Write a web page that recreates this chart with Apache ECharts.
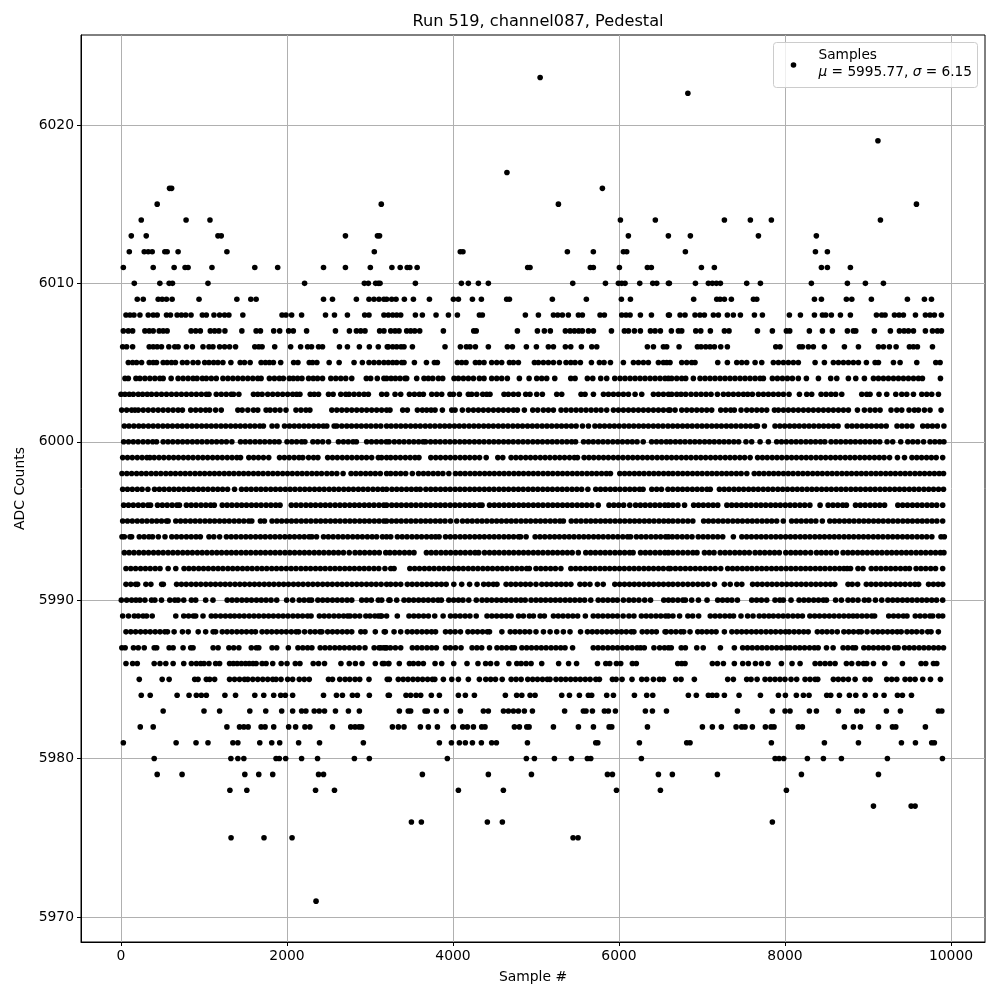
<!DOCTYPE html>
<html><head><meta charset="utf-8">
<style>html,body{margin:0;padding:0;background:#fff}#c{width:1000px;height:1000px}</style>
<script src="https://cdn.jsdelivr.net/npm/echarts@6/dist/echarts.min.js"></script>
</head><body><div id="c"></div>
<script>
const xTicks=[0,2000,4000,6000,8000,10000];
const yTicks=[5970,5980,5990,6000,6010,6020];
const s6023=[5050];
const s6022=[6830];
const s6019=[9120];
const s6017=[4650];
const s6016=[585,610,5800];
const s6015=[436,3136,5270,9584];
const s6014=[244,784,1072,6017,6438,7270,7583,7836,9150];
const s6013=[124,304,1168,1208,2704,3090,3115,6113,6595,6860,7680,8378];
const s6012=[100,280,328,376,528,556,688,1276,3052,4088,4120,5378,5691,6053,6093,6800,8367,8511];
const s6011=[28,388,640,772,808,1096,1612,1888,2440,2704,3004,3264,3364,3448,3480,3568,4900,4928,5655,5691,6005,6342,6390,6993,7149,8439,8511,8788];
const s6010=[160,468,580,620,1048,2212,2932,2980,3068,3100,3121,3547,4101,4185,4306,4426,5443,5837,5993,6033,6073,6250,6407,6455,6596,6607,6921,7077,7125,7174,7222,7539,7704,8318,8752,8969,9186];
const s6009=[196,268,448,496,548,616,940,1396,1564,1628,2440,2548,2836,2988,3048,3108,3168,3201,3262,3314,3414,3523,3716,4005,4065,4234,4342,4647,4680,5197,5607,6029,6138,6900,7178,7218,7270,7354,7620,7660,8355,8439,8740,8805,9041,9475,9680,9765];
const s6008=[60,108,156,228,328,388,436,548,596,676,728,780,844,980,1028,1120,1188,1248,1300,1468,1940,1988,2056,2176,2464,2572,2728,2936,2988,3168,3221,3274,3322,3370,3547,3631,3796,3945,4053,4318,4354,4872,5029,5210,5262,5318,5390,5511,5559,5772,5824,6033,6085,6134,6258,6391,6596,6607,6736,6796,6916,6976,7029,7137,7198,7306,7378,7463,7632,7728,8053,8186,8355,8451,8491,8559,8668,8788,9102,9166,9206,9319,9375,9427,9572,9692,9748,9800,9885];
const s6007=[28,88,140,288,340,388,460,508,556,844,900,956,1076,1128,1180,1252,1456,1628,1680,1840,1912,2020,2076,2236,2584,2752,2836,2888,2940,3116,3168,3250,3302,3350,3442,3490,3539,3599,3884,4250,4280,4776,5017,5101,5173,5354,5411,5463,5515,5559,5632,5692,5909,6065,6114,6186,6258,6379,6435,6499,6631,6716,6756,6925,6985,7101,7270,7326,7668,7848,8017,8057,8294,8451,8571,8752,8824,8853,9077,9270,9379,9435,9487,9548,9692,9777,9837,9885];
const s6006=[20,68,140,340,388,436,488,576,648,688,788,860,988,1060,1108,1188,1248,1308,1380,1612,1660,1700,1852,2044,2164,2248,2296,2380,2428,2632,2728,2872,2992,3100,3208,3221,3274,3322,3374,3410,3511,3904,4089,4161,4205,4270,4426,4655,4716,4884,5005,5149,5210,5354,5419,5547,5672,5732,6342,6415,6535,6575,6724,6945,6989,7045,7097,7150,7226,7306,7889,7941,8174,8210,8282,8342,8475,8716,8885,9126,9186,9258,9339,9499,9547,9596,9777];
const s6005=[88,140,188,248,340,388,428,508,556,608,656,740,796,868,928,1008,1060,1116,1168,1228,1324,1436,1488,1556,1688,1740,1788,1836,1924,2080,2132,2268,2308,2360,2508,2628,2808,2908,2988,3048,3108,3168,3221,3274,3322,3382,3410,3535,3680,3776,3812,4053,4105,4157,4270,4318,4374,4466,4527,4587,4680,4728,4788,4981,5029,5089,5149,5210,5282,5362,5419,5471,5535,5668,5764,5820,5897,6053,6174,6234,6294,6354,6475,6535,6575,6615,6756,6816,6876,6916,7190,7306,7419,7479,7539,7640,7720,7860,7921,7981,8041,8101,8161,8363,8475,8583,8644,8704,8764,8824,8885,8981,9086,9126,9307,9387,9588,9817,9869];
const s6004=[48,88,180,228,288,348,408,468,508,604,688,748,808,868,916,980,1028,1088,1148,1228,1288,1348,1408,1468,1528,1588,1648,1688,1788,1848,1908,1956,2028,2076,2128,2180,2260,2316,2368,2428,2528,2588,2648,2708,2780,2956,3008,3088,3168,3201,3254,3306,3362,3422,3442,3563,3651,3703,3756,3824,3876,4013,4065,4125,4185,4246,4318,4374,4466,4527,4587,4655,4800,4917,5009,5069,5129,5226,5419,5471,5619,5684,5780,5852,5949,6013,6073,6134,6194,6254,6314,6375,6435,6495,6555,6596,6635,6696,6756,6804,6896,6977,7037,7097,7157,7218,7278,7338,7398,7459,7519,7579,7640,7700,7740,7848,7909,7969,8029,8089,8161,8258,8403,8551,8624,8764,8853,8957,9066,9126,9186,9246,9307,9367,9427,9487,9548,9608,9656,9873];
const s6003=[0,48,100,148,208,260,316,368,428,488,548,608,668,728,788,848,908,968,1028,1060,1148,1208,1268,1328,1356,1420,1596,1648,1700,1768,1828,1888,1948,2008,2068,2116,2156,2280,2328,2380,2500,2556,2648,2708,2748,2808,2868,2928,2980,3141,3201,3302,3370,3475,3535,3595,3643,3744,3804,3864,3964,4005,4077,4185,4225,4286,4358,4406,4446,4615,4667,4728,4788,4876,4928,5009,5077,5250,5310,5543,5591,5692,5813,5873,5933,5993,6053,6114,6194,6274,6415,6475,6535,6596,6635,6696,6748,6804,6868,6929,6989,7049,7109,7186,7258,7318,7378,7439,7499,7551,7607,7680,7740,7800,7860,7921,7981,8049,8174,8262,8322,8435,8495,8555,8611,8684,8925,8985,9025,9133,9226,9335,9407,9467,9548,9648,9708,9768,9849];
const s6002=[8,68,128,168,208,268,328,388,448,508,568,628,688,740,840,900,960,1020,1068,1140,1208,1408,1460,1528,1596,1648,1748,1796,1856,1916,1988,2108,2168,2228,2276,2540,2600,2660,2720,2780,2840,2900,2960,3020,3080,3140,3200,3241,3394,3450,3571,3631,3683,3736,3784,3872,3985,4025,4113,4185,4246,4306,4366,4426,4487,4547,4607,4667,4728,4776,4860,4961,5021,5089,5149,5210,5302,5362,5423,5483,5543,5603,5664,5724,5784,5852,5933,5993,6053,6114,6174,6234,6294,6354,6415,6475,6535,6596,6615,6676,6756,6816,6876,6937,6997,7057,7117,7226,7286,7346,7390,7471,7539,7599,7660,7720,7780,7873,7921,7981,8041,8101,8161,8222,8282,8342,8403,8463,8523,8583,8644,8704,8764,8873,8957,9025,9086,9146,9278,9347,9407,9495,9559,9608,9680,9748,9881];
const s6001=[40,96,155,214,270,330,388,446,505,562,620,680,738,796,855,912,972,1030,1088,1146,1205,1262,1322,1380,1438,1496,1555,1612,1672,1716,1820,1880,1970,2030,2088,2146,2205,2262,2322,2380,2438,2480,2568,2600,2660,2720,2778,2838,2896,2955,3012,3072,3130,3200,3255,3314,3372,3430,3490,3548,3606,3666,3724,3782,3842,3900,3958,4018,4076,4134,4194,4252,4310,4370,4428,4486,4546,4604,4662,4722,4780,4838,4898,4956,5014,5074,5132,5190,5250,5308,5366,5426,5484,5560,5632,5710,5768,5826,5886,5944,6002,6062,6120,6178,6238,6296,6354,6414,6472,6530,6590,6648,6706,6766,6824,6882,6942,7000,7058,7118,7176,7234,7294,7352,7410,7470,7528,7586,7646,7668,7752,7880,7938,7996,8056,8114,8172,8232,8290,8348,8408,8466,8524,8584,8640,8750,8808,8866,8926,8984,9042,9102,9160,9220,9350,9410,9470,9530,9660,9718,9776,9836,9915];
const s6000=[32,90,148,206,266,324,382,428,508,566,624,684,742,800,860,918,976,1036,1094,1152,1212,1270,1336,1440,1498,1556,1616,1674,1732,1792,1850,1904,2000,2058,2116,2176,2216,2312,2370,2430,2500,2620,2680,2738,2796,2836,2960,3018,3078,3136,3196,3230,3293,3352,3410,3470,3528,3586,3640,3670,3730,3788,3846,3906,3964,4022,4082,4140,4198,4258,4316,4374,4434,4492,4550,4610,4668,4726,4786,4844,4902,4962,5020,5078,5138,5196,5254,5314,5372,5430,5477,5573,5632,5690,5750,5808,5866,5926,5984,6042,6102,6160,6218,6292,6393,6452,6510,6570,6620,6680,6738,6796,6856,6914,6972,7032,7090,7148,7208,7266,7324,7384,7442,7530,7599,7700,7800,7900,7958,8016,8076,8134,8192,8252,8310,8368,8428,8480,8555,8614,8672,8732,8790,8848,8908,8966,9024,9084,9142,9230,9298,9395,9480,9540,9600,9670,9748,9806,9864,9915];
const s5999=[20,78,136,196,254,312,348,400,458,516,576,634,692,752,810,868,928,986,1044,1104,1162,1220,1280,1338,1396,1440,1540,1598,1656,1716,1780,1910,1968,2026,2086,2144,2190,2260,2320,2372,2490,2548,2606,2666,2724,2782,2842,2900,2958,3020,3100,3140,3200,3250,3308,3366,3426,3484,3542,3590,3733,3792,3850,3910,3968,4026,4086,4144,4202,4262,4320,4400,4540,4600,4700,4758,4816,4876,4934,4992,5052,5110,5168,5228,5286,5344,5404,5462,5500,5580,5638,5696,5756,5814,5872,5932,5990,6048,6108,6166,6224,6284,6342,6400,6460,6518,6576,6634,6692,6752,6810,6868,6928,6986,7044,7104,7162,7220,7280,7338,7396,7456,7514,7580,7670,7728,7786,7846,7904,7962,8022,8080,8138,8198,8256,8314,8374,8432,8490,8550,8608,8666,8726,8784,8842,8902,8960,9018,9078,9136,9194,9260,9355,9440,9530,9588,9646,9706,9764,9822,9900];
const s5998=[12,70,128,188,246,304,364,422,480,540,598,656,716,774,832,892,950,1008,1068,1126,1184,1244,1302,1360,1420,1478,1536,1596,1654,1712,1772,1830,1888,1948,2006,2064,2124,2182,2240,2300,2358,2416,2480,2540,2600,2676,2772,2830,2888,2948,3006,3064,3124,3200,3250,3310,3370,3430,3510,3585,3644,3702,3762,3820,3878,3950,4030,4088,4146,4206,4264,4322,4382,4440,4498,4558,4616,4674,4734,4792,4850,4910,4968,5026,5086,5144,5202,5262,5320,5378,5438,5496,5554,5614,5672,5730,5790,5848,5897,6010,6068,6126,6186,6244,6302,6362,6420,6478,6538,6596,6650,6710,6768,6826,6886,6944,7002,7062,7120,7178,7238,7296,7354,7414,7472,7540,7630,7688,7746,7806,7864,7922,7982,8040,8098,8158,8216,8274,8334,8392,8450,8510,8568,8626,8686,8744,8802,8862,8920,8978,9038,9096,9154,9214,9272,9330,9390,9448,9506,9566,9624,9682,9742,9800,9858,9910];
const s5997=[20,78,136,196,254,324,404,462,520,580,638,696,756,814,872,932,990,1048,1108,1166,1224,1284,1368,1452,1510,1568,1628,1686,1744,1804,1862,1920,1980,2038,2096,2156,2214,2272,2332,2390,2448,2508,2566,2624,2684,2742,2800,2860,2918,2976,3036,3094,3152,3200,3264,3322,3380,3440,3498,3556,3605,3673,3732,3790,3850,3908,3966,4026,4084,4142,4202,4260,4318,4378,4436,4494,4554,4612,4670,4730,4788,4846,4906,4964,5022,5082,5140,5198,5258,5316,5374,5434,5492,5550,5625,5720,5778,5836,5896,5954,6012,6072,6130,6188,6248,6290,6395,6454,6512,6590,6648,6708,6766,6824,6884,6942,7000,7060,7100,7210,7268,7326,7386,7444,7502,7562,7620,7678,7738,7796,7854,7914,7972,8030,8090,8148,8206,8266,8324,8382,8442,8500,8558,8618,8676,8734,8794,8852,8910,8970,9028,9086,9146,9204,9262,9322,9380,9438,9498,9556,9614,9674,9732,9790,9850,9910];
const s5996=[32,90,148,208,266,324,356,440,498,556,616,674,704,788,846,904,964,1022,1080,1124,1220,1278,1336,1396,1454,1512,1572,1630,1688,1748,1806,1864,1916,2052,2110,2168,2228,2286,2344,2404,2462,2520,2580,2638,2696,2756,2814,2872,2932,2990,3048,3108,3166,3200,3262,3320,3378,3438,3496,3554,3614,3672,3730,3790,3848,3906,3966,4024,4082,4142,4200,4258,4318,4350,4440,4498,4556,4616,4674,4732,4792,4850,4908,4968,5026,5084,5144,5202,5260,5320,5378,5436,5496,5554,5612,5672,5750,5880,5938,5996,6056,6130,6200,6258,6316,6376,6434,6492,6552,6596,6650,6710,6790,6900,6958,7016,7076,7134,7190,7300,7358,7416,7476,7534,7592,7652,7710,7768,7828,7886,7944,8004,8062,8120,8180,8238,8300,8423,8520,8578,8636,8696,8740,8850,8908,8966,9026,9084,9142,9200,9360,9418,9476,9536,9594,9652,9712,9770,9828,9900];
const s5995=[20,78,136,196,254,312,372,430,488,548,568,660,718,776,836,894,952,1012,1070,1128,1188,1246,1304,1364,1422,1480,1540,1576,1680,1728,1820,1878,1936,1996,2054,2112,2172,2230,2288,2348,2406,2464,2524,2582,2640,2700,2758,2816,2876,2934,2992,3052,3110,3168,3200,3260,3318,3376,3436,3494,3552,3612,3670,3728,3788,3846,3904,3970,4045,4115,4174,4232,4292,4350,4408,4468,4526,4584,4644,4702,4760,4820,4878,4936,4996,5054,5112,5172,5230,5288,5330,5425,5484,5542,5602,5660,5718,5778,5836,5894,5954,6012,6070,6130,6188,6246,6306,6364,6422,6482,6540,6596,6650,6710,6770,6830,6890,7020,7078,7136,7196,7254,7312,7372,7430,7488,7548,7606,7664,7724,7782,7840,7900,7980,8080,8138,8196,8256,8314,8372,8450,8540,8598,8656,8716,8774,8832,8892,8950,9008,9068,9126,9184,9244,9302,9360,9420,9478,9536,9596,9654,9712,9772,9830,9900];
const s5994=[12,40,108,128,220,278,336,380,450,530,612,670,728,788,846,904,956,1060,1118,1188,1270,1328,1386,1446,1504,1562,1622,1680,1738,1798,1856,1914,1974,2032,2090,2150,2208,2266,2300,2356,2440,2498,2556,2616,2674,2732,2792,2850,2908,2968,3026,3080,3150,3200,3250,3330,3388,3446,3506,3564,3622,3682,3740,3790,3833,3910,3968,4026,4086,4144,4202,4262,4320,4378,4438,4496,4554,4614,4672,4730,4790,4815,4881,4990,5048,5106,5166,5224,5282,5342,5400,5458,5518,5576,5634,5694,5752,5810,5870,5928,5986,6046,6104,6140,6210,6268,6326,6386,6444,6502,6562,6596,6644,6702,6762,6820,6880,6955,7014,7072,7132,7190,7250,7378,7480,7538,7596,7656,7714,7772,7832,7890,7948,8008,8066,8124,8184,8242,8300,8360,8418,8476,8536,8594,8652,8712,8770,8828,8888,8946,9004,9064,9122,9180,9240,9298,9356,9416,9474,9532,9592,9650,9708,9770,9880,9920];
const s5993=[40,98,156,216,274,332,392,450,508,568,626,684,744,802,860,920,978,1036,1096,1154,1212,1272,1330,1388,1448,1506,1564,1624,1682,1740,1800,1858,1916,1976,2034,2092,2152,2210,2268,2328,2386,2444,2504,2562,2620,2680,2750,2820,2878,2936,2996,3054,3112,3190,3240,3298,3356,3416,3474,3530,3680,3738,3796,3856,3914,3972,4032,4090,4148,4208,4266,4310,4380,4440,4498,4556,4616,4674,4732,4792,4850,4908,4968,5026,5084,5144,5202,5260,5320,5378,5436,5510,5600,5658,5716,5776,5834,5892,5952,6010,6068,6128,6170,6260,6318,6376,6436,6494,6552,6596,6650,6710,6770,6830,6890,6940,7030,7088,7145,7220,7278,7336,7396,7454,7512,7570,7640,7698,7756,7816,7874,7932,8010,8070,8128,8186,8246,8310,8380,8438,8496,8556,8620,8700,8758,8816,8876,8934,8992,9052,9110,9168,9228,9286,9344,9404,9462,9520,9580,9638,9696,9756,9814,9872,9915];
const s5992=[60,118,176,236,294,352,412,470,568,660,760,818,876,936,994,1052,1112,1170,1228,1288,1346,1404,1464,1522,1580,1640,1698,1756,1816,1874,1932,1992,2050,2108,2168,2226,2284,2344,2402,2460,2520,2578,2636,2696,2754,2812,2872,2930,2988,3048,3106,3180,3250,3290,3480,3538,3596,3656,3714,3772,3832,3890,3948,4008,4066,4124,4184,4242,4300,4360,4418,4476,4536,4594,4652,4712,4770,4828,4888,4920,5000,5058,5116,5176,5234,5300,5420,5478,5536,5596,5654,5712,5772,5830,5888,5948,6006,6064,6124,6182,6240,6300,6358,6416,6476,6534,6596,6620,6680,6740,6800,6860,6920,6980,7040,7100,7160,7226,7310,7368,7426,7486,7544,7602,7662,7720,7778,7838,7896,7954,8014,8072,8130,8190,8248,8306,8366,8424,8482,8542,8600,8658,8710,8750,8790,8880,8940,9040,9098,9156,9216,9274,9332,9392,9450,9500,9580,9638,9696,9756,9814,9900];
const s5991=[60,118,176,200,300,360,490,510,670,728,786,846,904,962,1022,1080,1138,1198,1256,1314,1374,1432,1490,1550,1608,1666,1726,1784,1842,1902,1960,2018,2078,2136,2194,2254,2312,2370,2430,2488,2546,2606,2664,2722,2782,2840,2898,2958,3016,3074,3134,3200,3250,3310,3370,3450,3508,3566,3626,3684,3742,3802,3860,3918,4010,4105,4200,4290,4370,4428,4486,4530,4640,4698,4756,4816,4874,4932,5000,5070,5128,5186,5246,5304,5362,5420,5530,5588,5650,5740,5810,5950,6008,6066,6126,6184,6242,6302,6360,6418,6478,6536,6596,6650,6710,6770,6830,6890,6950,7010,7070,7150,7270,7340,7420,7480,7610,7668,7726,7786,7844,7902,7962,8020,8078,8138,8196,8254,8314,8372,8430,8490,8548,8600,8760,8810,8875,8980,9038,9096,9156,9214,9272,9332,9390,9448,9508,9566,9610,9730,9788,9846,9900];
const s5990=[4,68,128,180,228,288,368,408,488,588,648,688,756,848,900,1020,1108,1280,1338,1396,1456,1514,1572,1632,1690,1748,1808,1876,1996,2068,2148,2206,2264,2296,2372,2430,2488,2548,2606,2664,2724,2780,2900,2958,3016,3100,3141,3228,3241,3322,3410,3468,3526,3586,3644,3702,3762,3820,3860,3950,4008,4066,4120,4190,4281,4350,4408,4466,4526,4584,4642,4702,4760,4818,4870,4941,5000,5058,5116,5176,5234,5292,5352,5410,5468,5528,5586,5660,5750,5808,5866,5926,5980,6053,6120,6178,6240,6310,6380,6540,6596,6650,6710,6770,6800,6876,6957,7061,7190,7248,7306,7360,7427,7600,7658,7716,7780,7880,7938,7980,8073,8170,8228,8286,8346,8404,8462,8500,8610,8680,8760,8818,8880,8957,9010,9090,9166,9240,9298,9356,9416,9474,9532,9592,9650,9708,9768,9826,9900];
const s5989=[20,90,160,208,266,308,376,660,756,814,872,900,988,1088,1140,1200,1258,1316,1368,1426,1484,1544,1602,1660,1720,1778,1836,1896,1954,2012,2072,2130,2188,2248,2290,2390,2448,2506,2566,2624,2682,2730,2760,2818,2876,2950,3000,3058,3100,3130,3200,3140,3329,3470,3528,3586,3646,3704,3780,3881,3970,4028,4086,4146,4204,4280,4410,4468,4526,4586,4644,4700,4790,4848,4920,4969,5050,5101,5210,5268,5326,5386,5444,5502,5595,5690,5748,5806,5866,5924,5982,6050,6120,6180,6270,6328,6386,6446,6504,6562,6596,6650,6730,6830,6888,6960,7100,7158,7216,7276,7334,7380,7470,7550,7615,7690,7748,7806,7860,7920,7978,8036,8096,8154,8210,8300,8358,8416,8476,8534,8592,8652,8710,8768,8820,8870,8928,8986,9046,9080,9250,9308,9366,9426,9470,9570,9628,9686,9746,9780,9850,9900];
const s5988=[60,118,176,236,294,352,412,470,528,560,640,740,810,930,1020,1110,1140,1220,1278,1336,1396,1454,1512,1572,1620,1700,1758,1816,1876,1934,1992,2052,2110,2140,2212,2280,2338,2396,2420,2490,2548,2606,2666,2724,2780,2890,2940,3064,3172,3185,3290,3370,3450,3508,3566,3626,3684,3742,3790,3910,3968,4026,4090,4180,4238,4296,4356,4414,4440,4589,4690,4748,4806,4866,4924,5000,5090,5170,5250,5330,5410,5537,5620,5678,5736,5796,5854,5912,5972,6030,6088,6148,6180,6280,6338,6396,6450,6555,6570,6628,6686,6746,6780,6856,6949,7000,7058,7116,7170,7270,7360,7420,7478,7536,7596,7654,7712,7772,7830,7888,7948,8006,8050,8110,8168,8226,8280,8390,8448,8506,8566,8630,8710,8768,8826,8886,8920,8989,9060,9118,9176,9236,9294,9352,9400,9470,9528,9586,9650,9720,9760,9848];
const s5987=[10,50,150,208,280,400,430,580,628,748,840,868,1110,1170,1300,1358,1420,1570,1630,1660,1820,1876,2016,2132,2190,2248,2300,2400,2458,2516,2576,2634,2692,2752,2810,2870,2940,3050,3108,3166,3200,3130,3188,3246,3306,3370,3510,3568,3626,3686,3744,3800,3910,3968,4030,4097,4230,4288,4346,4440,4530,4588,4646,4706,4740,4830,4888,4946,5006,5064,5122,5182,5240,5298,5350,5441,5690,5748,5806,5866,5924,5982,6042,6100,6158,6218,6260,6305,6421,6490,6548,6596,6630,6750,6800,6937,7015,7222,7390,7490,7548,7606,7666,7724,7782,7842,7900,7958,8018,8060,8120,8178,8236,8296,8354,8400,8500,8580,8700,8758,8816,8850,8950,9008,9066,9126,9184,9242,9320,9363,9440,9498,9556,9616,9674,9732,9792,9850,9910];
const s5986=[60,140,196,400,470,540,628,756,848,908,960,1000,1060,1140,1188,1308,1354,1400,1450,1500,1545,1590,1628,1700,1748,1828,1930,2000,2100,2156,2316,2380,2452,2650,2750,2824,2904,3064,3150,3228,3170,3221,3353,3475,3523,3583,3643,3784,3864,4009,4169,4301,4393,4453,4529,4673,4769,4821,4881,4941,5069,5273,5393,5489,5741,5841,5889,5969,6021,6161,6209,6708,6756,6796,7125,7186,7258,7390,7491,7559,7644,7716,7796,7957,8085,8182,8363,8423,8483,8543,8604,8740,8804,8885,8945,8985,9066,9202,9415,9640,9696,9789,9829];
const s5985=[220,496,580,888,928,1028,1068,1128,1308,1368,1428,1488,1528,1588,1648,1708,1768,1828,1868,1928,2008,2068,2148,2208,2268,2500,2548,2636,2700,2756,2820,2876,2988,3208,3233,3341,3400,3458,3518,3576,3634,3694,3752,3781,3884,3985,4065,4185,4318,4395,4454,4512,4593,4701,4760,4821,4901,4960,5018,5078,5136,5169,5241,5300,5358,5418,5476,5534,5594,5652,5721,5764,5921,5965,6037,6157,6274,6334,6415,6487,6535,6684,6748,6908,7310,7378,7539,7591,7664,7760,7820,7880,7940,8000,8073,8141,8242,8302,8363,8395,8583,8642,8702,8764,8845,8965,9025,9226,9286,9347,9447,9507,9568,9660,9753,9873];
const s5984=[244,352,676,820,908,968,1028,1252,1380,1612,1720,1840,1924,1980,2068,2440,2596,2668,2788,2848,2992,3220,3233,3434,3490,3555,3611,3739,3836,4065,4149,4258,4631,4767,4829,4929,4989,5310,5403,5523,5631,5671,5852,5933,6186,6334,6407,6836,6932,7077,7125,7178,7270,7447,7704,7921,8005,8137,8222,8290,8503,8551,8656,8776,8853,8965,9090,9194,9355,9415,9524];
const s5983=[508,1000,1188,1552,1744,1936,2068,2176,2228,2328,2388,2452,2584,2740,2872,3354,3461,3490,3663,3691,3799,3920,4089,4366,4426,4608,4668,4728,4788,4860,4957,5345,5571,5603,5680,5824,5872,5957,6318,6403,6572,7427,7848,8001,8061,8294,8379,8644,8865,8933,9222,9391,9849,9890];
const s5982=[232,388,1276,1428,1480,1532,1688,1736,1840,2020,2104,2216,2276,2548,2768,2820,2868,2900,3270,3342,3410,3607,3703,3812,4005,4117,4173,4246,4346,4386,4740,4800,4889,4917,5210,5511,5692,5881,5913,6343,7005,7125,7234,7411,7479,7519,7607,7764,7832,7868,8161,8210,8716,8824,8909,9126,9295,9335,9692];
const s5981=[28,664,904,1048,1348,1408,1672,1816,1912,2140,2392,2920,3836,3981,4077,4149,4234,4342,4466,4523,4897,5720,5745,6246,6816,6856,7836,8475,8885,9403,9572,9768,9800];
const s5980=[400,1324,1408,1480,1868,1908,1984,2176,2368,2812,2992,3932,4884,4981,5222,5427,5619,5660,6270,7881,7929,7985,8270,8463,8680,9234,9897];
const s5979=[436,736,1492,1660,1828,2380,2440,3631,4426,4945,5861,5921,6475,6643,7186,8198,9126];
const s5978=[1312,1516,2344,2572,4065,4607,5970,6499,8017];
const s5977=[9066,9520,9568];
const s5976=[3499,3619,4414,4595,7848];
const s5975=[1326,1723,2061,5447,5507];
const s5971=[2350];

const rows=[[6023,s6023],[6022,s6022],[6019,s6019],[6017,s6017],[6016,s6016],[6015,s6015],[6014,s6014],[6013,s6013],[6012,s6012],[6011,s6011],[6010,s6010],[6009,s6009],[6008,s6008],[6007,s6007],[6006,s6006],[6005,s6005],[6004,s6004],[6003,s6003],[6002,s6002],[6001,s6001],[6000,s6000],[5999,s5999],[5998,s5998],[5997,s5997],[5996,s5996],[5995,s5995],[5994,s5994],[5993,s5993],[5992,s5992],[5991,s5991],[5990,s5990],[5989,s5989],[5988,s5988],[5987,s5987],[5986,s5986],[5985,s5985],[5984,s5984],[5983,s5983],[5982,s5982],[5981,s5981],[5980,s5980],[5979,s5979],[5978,s5978],[5977,s5977],[5976,s5976],[5975,s5975],[5971,s5971]];
const points=[];
rows.forEach(([lvl,xs])=>xs.forEach(x=>points.push([x,lvl])));

const FONT='"DejaVu Sans"';
const chart=echarts.init(document.getElementById('c'),null,{renderer:'canvas'});
const axisCommon={
  axisLine:{show:true,onZero:false,lineStyle:{color:'#000',width:1}},
  splitLine:{show:true,lineStyle:{color:'#b0b0b0',width:1}},
  nameLocation:'middle',
  nameTextStyle:{color:'#000',fontFamily:FONT,fontSize:13.9}
};
chart.setOption({
  animation:false,
  backgroundColor:'#fff',
  title:{text:'Run 519, channel087, Pedestal',left:533,top:9,textAlign:'center',
    textStyle:{fontFamily:FONT,fontSize:16.2,fontWeight:'normal',color:'#000'}},
  grid:{left:81,top:35,width:904,height:907,show:true,borderColor:'#000',borderWidth:1,backgroundColor:'transparent'},
  xAxis:Object.assign({},axisCommon,{type:'value',min:-482,max:10410,name:'Sample #',nameGap:28,
    axisTick:{show:true,length:4,customValues:xTicks,lineStyle:{color:'#000'}},
    axisLabel:{customValues:xTicks,color:'#000',fontFamily:FONT,fontSize:13.9,margin:7,formatter:v=>String(v)}}),
  yAxis:Object.assign({},axisCommon,{type:'value',min:5968.42,max:6025.68,name:'ADC Counts',nameGap:54,
    axisTick:{show:true,length:4,customValues:yTicks,lineStyle:{color:'#000'}},
    axisLabel:{customValues:yTicks,color:'#000',fontFamily:FONT,fontSize:13.9,margin:7,formatter:v=>String(v)}}),
  graphic:[
    {type:'rect',z:50,shape:{x:773.5,y:42.5,width:204,height:45,r:3},style:{fill:'rgba(255,255,255,0.8)',stroke:'#cccccc',lineWidth:1}},
    {type:'circle',z:51,shape:{cx:793.5,cy:65,r:2.8},style:{fill:'#000'}},
    {type:'text',z:51,x:818.5,y:47,style:{text:'Samples\n{i|μ} = 5995.77, {i|σ} = 6.15',fill:'#000',fontFamily:FONT,fontSize:13.7,lineHeight:17,
      rich:{i:{fontStyle:'italic',fontFamily:FONT,fontSize:13.7,fill:'#000',lineHeight:17}}}}
  ],
  series:[{name:'Samples',type:'scatter',data:points,symbol:'circle',symbolSize:5.6,silent:true,large:false,progressive:0,
    itemStyle:{color:'#000',opacity:1},z:3}]
});
</script></body></html>
